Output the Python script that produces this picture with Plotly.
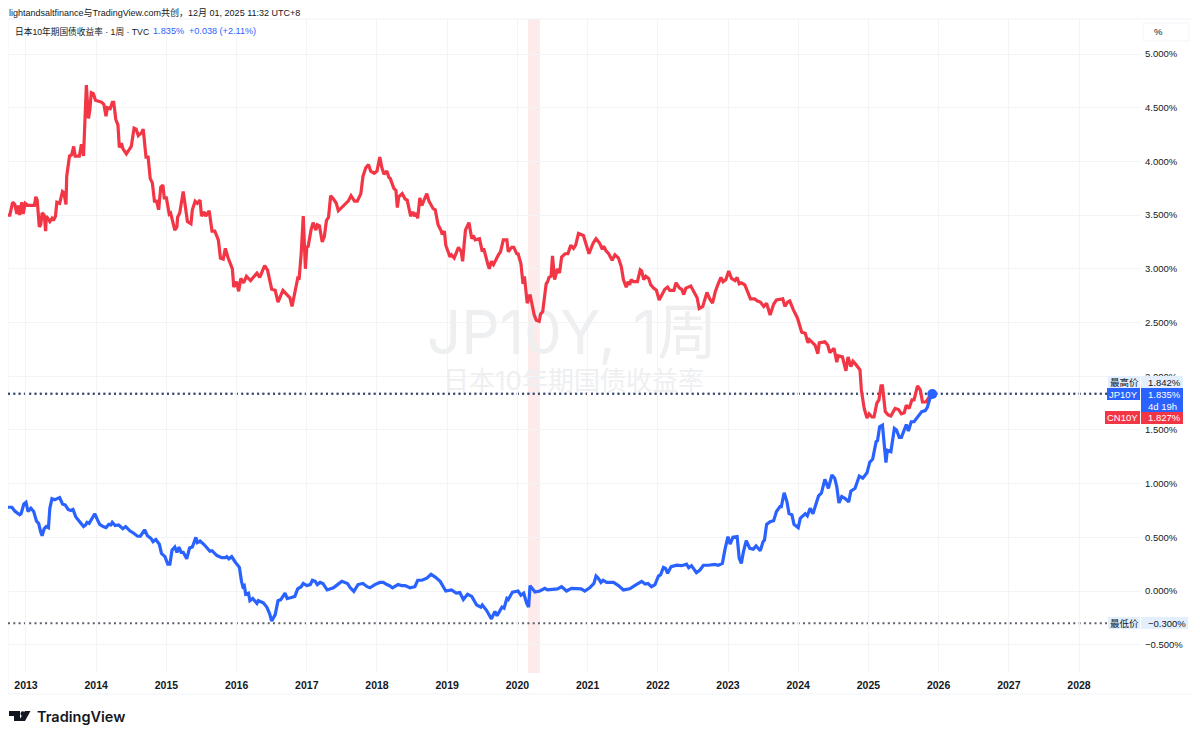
import plotly.graph_objects as go

# values, x is fractional calendar year
CN_YEARS = [
    2012.74, 2012.77, 2012.81, 2012.84, 2012.87, 2012.89, 2012.91, 2012.94, 2012.96, 2012.99, 2013.03, 2013.12,
    2013.14, 2013.16, 2013.19, 2013.21, 2013.23, 2013.26, 2013.28, 2013.29, 2013.34, 2013.37, 2013.39, 2013.42,
    2013.44, 2013.48, 2013.52, 2013.54, 2013.57, 2013.58, 2013.62, 2013.65, 2013.68, 2013.70, 2013.76, 2013.79,
    2013.82, 2013.84, 2013.86, 2013.89, 2013.91, 2013.93, 2013.96, 2013.99, 2014.03, 2014.08, 2014.11, 2014.14,
    2014.16, 2014.20, 2014.23, 2014.25, 2014.28, 2014.31, 2014.33, 2014.36, 2014.38, 2014.43, 2014.47, 2014.50,
    2014.54, 2014.57, 2014.60, 2014.65, 2014.67, 2014.71, 2014.74, 2014.77, 2014.80, 2014.83, 2014.86, 2014.89,
    2014.92, 2014.95, 2014.97, 2015.00, 2015.04, 2015.06, 2015.12, 2015.15, 2015.16, 2015.19, 2015.24, 2015.27,
    2015.30, 2015.35, 2015.37, 2015.41, 2015.44, 2015.48, 2015.50, 2015.54, 2015.56, 2015.61, 2015.65, 2015.69,
    2015.74, 2015.77, 2015.81, 2015.84, 2015.88, 2015.94, 2015.96, 2016.00, 2016.03, 2016.06, 2016.10, 2016.14,
    2016.20, 2016.25, 2016.29, 2016.33, 2016.40, 2016.44, 2016.48, 2016.50, 2016.55, 2016.59, 2016.66, 2016.70,
    2016.76, 2016.79, 2016.83, 2016.87, 2016.89,
    2016.92, 2016.95, 2016.98, 2017.00, 2017.02, 2017.06, 2017.09, 2017.13, 2017.15, 2017.18, 2017.22, 2017.25,
    2017.28, 2017.31, 2017.34, 2017.38, 2017.42, 2017.45, 2017.50, 2017.54, 2017.59, 2017.63, 2017.68, 2017.72,
    2017.77, 2017.80, 2017.84, 2017.88, 2017.91, 2017.96, 2018.00, 2018.04, 2018.07, 2018.10, 2018.14, 2018.17,
    2018.19, 2018.24, 2018.27, 2018.29, 2018.31, 2018.36, 2018.40, 2018.43, 2018.48, 2018.51, 2018.54, 2018.56,
    2018.58, 2018.61, 2018.64, 2018.67, 2018.71, 2018.74, 2018.80, 2018.83, 2018.87, 2018.91, 2018.93, 2018.96,
    2018.98, 2019.04, 2019.06, 2019.10, 2019.16, 2019.20, 2019.22, 2019.26, 2019.31, 2019.35, 2019.37, 2019.40,
    2019.46, 2019.50, 2019.52, 2019.58, 2019.60, 2019.63, 2019.66, 2019.73, 2019.76, 2019.80, 2019.85, 2019.87,
    2019.92, 2019.95, 2019.99, 2020.01, 2020.05, 2020.08, 2020.10, 2020.14, 2020.18, 2020.24, 2020.27, 2020.31,
    2020.33, 2020.36, 2020.41, 2020.43, 2020.45, 2020.48, 2020.50, 2020.53, 2020.57, 2020.60, 2020.63, 2020.68,
    2020.72, 2020.76, 2020.80, 2020.83, 2020.87, 2020.94, 2020.99, 2021.02,
    2021.08, 2021.12, 2021.17, 2021.21, 2021.23, 2021.26, 2021.30, 2021.35, 2021.39, 2021.44, 2021.48, 2021.51,
    2021.55, 2021.58, 2021.60, 2021.62, 2021.65, 2021.71, 2021.75, 2021.77, 2021.80, 2021.83, 2021.87, 2021.90,
    2021.94, 2021.98, 2022.02, 2022.06, 2022.10, 2022.14, 2022.17, 2022.23, 2022.26, 2022.31, 2022.34, 2022.37,
    2022.40, 2022.47, 2022.52, 2022.56, 2022.59, 2022.64, 2022.70, 2022.74, 2022.78, 2022.82, 2022.86, 2022.90,
    2022.93, 2022.97, 2023.01, 2023.05, 2023.10, 2023.13, 2023.16, 2023.19, 2023.24, 2023.29, 2023.32, 2023.38,
    2023.42, 2023.46, 2023.51, 2023.55, 2023.60, 2023.65, 2023.69, 2023.78, 2023.81, 2023.85, 2023.88, 2023.93,
    2023.99, 2024.05, 2024.10, 2024.14, 2024.16, 2024.24, 2024.28, 2024.30, 2024.38, 2024.42, 2024.45, 2024.51,
    2024.55, 2024.57, 2024.63, 2024.68, 2024.71, 2024.75, 2024.78, 2024.82, 2024.88, 2024.90, 2024.94, 2024.98,
    2025.01, 2025.05, 2025.08, 2025.12, 2025.15, 2025.18, 2025.20, 2025.24, 2025.28, 2025.32, 2025.38, 2025.43,
    2025.47, 2025.51, 2025.54, 2025.58, 2025.62, 2025.65, 2025.70, 2025.74, 2025.77, 2025.82, 2025.87, 2025.91,
]
CN_YIELD = [
    3.50, 3.50, 3.62, 3.60, 3.51, 3.59, 3.50, 3.62, 3.51, 3.61, 3.59, 3.59,
    3.67, 3.64, 3.39, 3.41, 3.52, 3.50, 3.35, 3.49, 3.44, 3.47, 3.45, 3.49,
    3.62, 3.61, 3.72, 3.71, 3.60, 3.86, 4.05, 4.06, 4.14, 4.05, 4.05, 4.16,
    4.05, 4.45, 4.71, 4.40, 4.48, 4.64, 4.63, 4.57, 4.56, 4.55, 4.53, 4.42,
    4.50, 4.49, 4.55, 4.55, 4.39, 4.34, 4.13, 4.17, 4.12, 4.07, 4.11, 4.14,
    4.31, 4.30, 4.24, 4.27, 4.30, 4.04, 4.04, 3.84, 3.80, 3.63, 3.63, 3.55,
    3.76, 3.78, 3.66, 3.66, 3.51, 3.52, 3.36, 3.39, 3.48, 3.52, 3.72, 3.55,
    3.44, 3.42, 3.55, 3.63, 3.61, 3.64, 3.49, 3.53, 3.49, 3.54, 3.35, 3.35,
    3.27, 3.10, 3.09, 3.19, 3.10, 3.00, 2.83, 2.88, 2.79, 2.91, 2.87, 2.93,
    2.89, 2.93, 2.96, 2.92, 3.03, 2.99, 2.85, 2.81, 2.80, 2.69, 2.80, 2.77,
    2.73, 2.65, 2.77, 2.91, 2.90,
    3.14, 3.49, 3.00, 3.20, 3.21, 3.36, 3.43, 3.36, 3.41, 3.40, 3.25, 3.30,
    3.45, 3.48, 3.68, 3.65, 3.61, 3.54, 3.57, 3.59, 3.63, 3.68, 3.63, 3.63,
    3.70, 3.86, 3.94, 3.97, 3.91, 3.89, 3.91, 4.04, 3.94, 3.88, 3.91, 3.85,
    3.84, 3.75, 3.73, 3.57, 3.67, 3.70, 3.65, 3.64, 3.49, 3.53, 3.49, 3.52,
    3.47, 3.66, 3.59, 3.64, 3.70, 3.63, 3.56, 3.55, 3.41, 3.36, 3.32, 3.35,
    3.22, 3.11, 3.13, 3.10, 3.20, 3.16, 3.07, 3.36, 3.43, 3.28, 3.31, 3.27,
    3.28, 3.16, 3.19, 3.04, 3.00, 3.07, 3.04, 3.13, 3.16, 3.27, 3.27, 3.16,
    3.20, 3.20, 3.14, 3.14, 3.05, 2.86, 2.93, 2.68, 2.76, 2.57, 2.52, 2.51,
    2.58, 2.60, 2.86, 2.88, 2.92, 2.93, 3.12, 2.90, 3.00, 2.96, 3.11, 3.14,
    3.14, 3.22, 3.19, 3.22, 3.33, 3.31, 3.19, 3.14,
    3.24, 3.28, 3.24, 3.18, 3.21, 3.17, 3.14, 3.08, 3.13, 3.10, 3.02, 2.90,
    2.83, 2.88, 2.85, 2.90, 2.88, 2.88, 2.99, 2.98, 2.90, 2.93, 2.91, 2.85,
    2.82, 2.80, 2.71, 2.76, 2.81, 2.83, 2.80, 2.80, 2.87, 2.82, 2.81, 2.76,
    2.82, 2.84, 2.78, 2.73, 2.63, 2.65, 2.78, 2.72, 2.68, 2.79, 2.86, 2.92,
    2.88, 2.90, 2.98, 2.91, 2.89, 2.92, 2.86, 2.87, 2.85, 2.76, 2.72, 2.72,
    2.70, 2.69, 2.65, 2.68, 2.57, 2.67, 2.71, 2.72, 2.65, 2.69, 2.70, 2.62,
    2.54, 2.41, 2.40, 2.31, 2.34, 2.29, 2.21, 2.31, 2.32, 2.29, 2.22, 2.26,
    2.13, 2.19, 2.18, 2.05, 2.18, 2.09, 2.14, 2.11, 2.06, 1.87, 1.70, 1.61,
    1.65, 1.62, 1.62, 1.75, 1.78, 1.91, 1.91, 1.67, 1.64, 1.63, 1.70, 1.69,
    1.65, 1.66, 1.73, 1.70, 1.78, 1.78, 1.91, 1.87, 1.76, 1.76, 1.81, 1.827,
]

JP_YEARS = [
    2012.74, 2012.80, 2012.84, 2012.91, 2012.93, 2012.97, 2013.00, 2013.03, 2013.07, 2013.11, 2013.15, 2013.18,
    2013.21, 2013.23, 2013.26, 2013.29, 2013.32, 2013.34, 2013.37, 2013.41, 2013.48, 2013.52, 2013.56, 2013.60,
    2013.64, 2013.67, 2013.71, 2013.76, 2013.82, 2013.85, 2013.87, 2013.90, 2013.94, 2013.98, 2014.02, 2014.05,
    2014.10, 2014.14, 2014.18, 2014.21, 2014.23, 2014.27, 2014.32, 2014.38, 2014.42, 2014.48, 2014.53, 2014.59,
    2014.63, 2014.69, 2014.73, 2014.78, 2014.81, 2014.85, 2014.90, 2014.93, 2014.98, 2015.02, 2015.05, 2015.08,
    2015.12, 2015.15, 2015.18, 2015.21, 2015.24, 2015.29, 2015.33, 2015.37, 2015.42, 2015.44, 2015.48, 2015.54,
    2015.62, 2015.65, 2015.72, 2015.79, 2015.84, 2015.86, 2015.89, 2015.93, 2015.98, 2016.04, 2016.07, 2016.09,
    2016.11, 2016.13, 2016.17, 2016.19, 2016.23, 2016.29, 2016.31, 2016.38, 2016.43, 2016.47, 2016.50, 2016.55,
    2016.59, 2016.63, 2016.69, 2016.72, 2016.78, 2016.83, 2016.87, 2016.92, 2016.95, 2017.00, 2017.05, 2017.08,
    2017.12, 2017.15, 2017.19,
    2017.23, 2017.29, 2017.33, 2017.38, 2017.42, 2017.50, 2017.58, 2017.62, 2017.67, 2017.73, 2017.80, 2017.86,
    2017.90, 2017.97, 2018.04, 2018.09, 2018.14, 2018.18, 2018.22, 2018.30, 2018.35, 2018.40, 2018.47, 2018.54,
    2018.58, 2018.64, 2018.71, 2018.77, 2018.83, 2018.90, 2018.98, 2019.06, 2019.13, 2019.18, 2019.23, 2019.29,
    2019.35, 2019.42, 2019.48, 2019.50, 2019.56, 2019.63, 2019.68, 2019.71, 2019.78, 2019.81, 2019.85, 2019.87,
    2019.93, 2020.01, 2020.05, 2020.09, 2020.13, 2020.16, 2020.18, 2020.21, 2020.25, 2020.32, 2020.39, 2020.43,
    2020.51, 2020.57, 2020.63, 2020.70, 2020.77, 2020.84, 2020.91, 2020.96, 2021.03, 2021.09, 2021.12, 2021.15,
    2021.19, 2021.22, 2021.27, 2021.37, 2021.44, 2021.51, 2021.60, 2021.67, 2021.77, 2021.82, 2021.86, 2021.91,
    2021.96, 2022.01, 2022.04, 2022.08, 2022.11, 2022.14, 2022.19, 2022.27, 2022.34, 2022.41, 2022.44,
    2022.48, 2022.55, 2022.60, 2022.65, 2022.72, 2022.77, 2022.81, 2022.86, 2022.92, 2022.96, 2023.00, 2023.03,
    2023.07, 2023.13, 2023.16, 2023.19, 2023.22, 2023.26, 2023.31, 2023.36, 2023.40, 2023.46, 2023.50, 2023.52,
    2023.55, 2023.60, 2023.65, 2023.69, 2023.74, 2023.76, 2023.80, 2023.84, 2023.87, 2023.91, 2023.94, 2024.00,
    2024.03, 2024.10, 2024.13, 2024.17, 2024.21, 2024.29, 2024.33, 2024.38, 2024.43, 2024.48, 2024.52, 2024.55,
    2024.58, 2024.62, 2024.67, 2024.72, 2024.75, 2024.81, 2024.87, 2024.92, 2024.98, 2025.02, 2025.06, 2025.11,
    2025.13, 2025.16, 2025.20, 2025.25, 2025.27, 2025.32, 2025.37, 2025.40, 2025.44, 2025.47, 2025.54, 2025.57,
    2025.61, 2025.65, 2025.71, 2025.76, 2025.81, 2025.84, 2025.87, 2025.91,
]
JP_YIELD = [
    0.78, 0.78, 0.745, 0.71, 0.72, 0.81, 0.825, 0.74, 0.77, 0.74, 0.65, 0.63,
    0.55, 0.515, 0.58, 0.60, 0.59, 0.77, 0.86, 0.85, 0.87, 0.81, 0.80, 0.76,
    0.75, 0.76, 0.69, 0.645, 0.60, 0.615, 0.64, 0.63, 0.68, 0.72, 0.66, 0.62,
    0.60, 0.59, 0.62, 0.615, 0.64, 0.61, 0.615, 0.58, 0.60, 0.56, 0.54, 0.51,
    0.51, 0.57, 0.515, 0.49, 0.46, 0.48, 0.435, 0.35, 0.32, 0.25, 0.25, 0.38,
    0.41, 0.36, 0.41, 0.36, 0.36, 0.30, 0.40, 0.41, 0.50, 0.45, 0.465, 0.43,
    0.37, 0.375, 0.33, 0.31, 0.31, 0.32, 0.30, 0.32, 0.27, 0.22, 0.09, 0.04,
    0.05, -0.03, -0.02, -0.09, -0.07, -0.115, -0.09, -0.11, -0.15, -0.21, -0.28, -0.22,
    -0.09, -0.08, -0.02, -0.07, -0.06, -0.05, 0.02, 0.04, 0.07, 0.05, 0.06, 0.10,
    0.09, 0.06, 0.08,
    0.07, 0.01, 0.02, 0.03, 0.05, 0.09, 0.07, 0.03, -0.003, 0.06, 0.07, 0.04,
    0.03, 0.06, 0.08, 0.08, 0.06, 0.05, 0.03, 0.06, 0.05, 0.05, 0.03, 0.04,
    0.10, 0.10, 0.12, 0.155, 0.13, 0.09, 0.0, 0.01, -0.02, -0.015, -0.08, -0.03,
    -0.05, -0.13, -0.15, -0.13, -0.18, -0.26, -0.19, -0.23, -0.15, -0.16, -0.07, -0.08,
    -0.01, 0.0, -0.04, -0.02, -0.11, -0.15, 0.05, 0.02, -0.01, 0.0, 0.025, 0.01,
    0.02, 0.02, 0.04, 0.0, 0.025, 0.025, 0.02, 0.0, 0.03, 0.07, 0.14, 0.12,
    0.08, 0.10, 0.08, 0.08, 0.05, 0.01, 0.02, 0.05, 0.09, 0.065, 0.07, 0.04,
    0.06, 0.14, 0.15, 0.22, 0.21, 0.165, 0.227, 0.24, 0.236, 0.25, 0.217,
    0.236, 0.17, 0.195, 0.24, 0.24, 0.248, 0.248, 0.24, 0.257, 0.397, 0.506, 0.437,
    0.50, 0.506, 0.304, 0.257, 0.366, 0.468, 0.397, 0.39, 0.42, 0.375, 0.46, 0.475,
    0.62, 0.645, 0.655, 0.74, 0.785, 0.785, 0.915, 0.83, 0.72, 0.71, 0.62, 0.59,
    0.676, 0.72, 0.70, 0.77, 0.72, 0.885, 0.91, 1.04, 0.956, 1.08, 1.05, 0.97,
    0.82, 0.88, 0.86, 0.83, 0.93, 0.956, 1.07, 1.05, 1.10, 1.20, 1.226, 1.39,
    1.40, 1.53, 1.545, 1.195, 1.31, 1.297, 1.514, 1.50, 1.43, 1.43, 1.55, 1.49,
    1.576, 1.576, 1.63, 1.67, 1.68, 1.71, 1.78, 1.835,
]

YEAR_TICKS = list(range(2013, 2029))
YIELD_TICKS = [-0.5, 0, 0.5, 1, 1.5, 2, 2.5, 3, 3.5, 4, 4.5, 5]
YIELD_LABELS = ["−0.500%", "0.000%", "0.500%", "1.000%", "1.500%", "2.000%",
                "2.500%", "3.000%", "3.500%", "4.000%", "4.500%", "5.000%"]
HIGH = 1.842
LOW = -0.300
LAST = 1.835
BAND = [2020.15, 2020.32]

FONT = "'Liberation Sans', 'Noto Sans CJK SC', sans-serif"
MARK_FONT = "Inter, 'Noto Sans CJK SC', sans-serif"
RED = "#f23645"
BLUE = "#2962ff"
FRAME = "#f1f3f8"

# the browser keeps 8px of body margin around the figure, so the figure is 8px
# smaller and L/R/T/B below are page pixels of the price pane
PAGE = 8
W, H = 1200 - PAGE, 738 - PAGE
L, R, T, B = 8, 1141, 19, 673


def px(x):
    return (x - L) / (R - L)


def py(y):
    return (B - y) / (B - T)


def box(x0, y0, x1, y1, color, line=None):
    return dict(type="rect", xref="paper", yref="paper", x0=px(x0), x1=px(x1), y0=py(y0), y1=py(y1),
                fillcolor=color, line=dict(color=line or color, width=1 if line else 0), layer="above")


def label(x, y, text, color="#131722", size=9.5, anchor="left", weight=None, family=FONT):
    font = dict(family=family, size=size, color=color)
    if weight:
        font["weight"] = weight
    return dict(xref="paper", yref="paper", x=px(x), y=py(y), text=text, showarrow=False,
                xanchor=anchor, yanchor="middle", font=font)


def poly(points, color="#131722"):
    d = "M" + " L".join(f"{px(a):.5f},{py(b):.5f}" for a, b in points) + " Z"
    return dict(type="path", xref="paper", yref="paper", path=d, fillcolor=color, line=dict(width=0), layer="above")


fig = go.Figure()

# watermark goes first so the lines sit on top of it
fig.add_trace(go.Scatter(x=[2020.78], y=[2.35], mode="text", text=["JP10Y, 1周"], hoverinfo="skip",
                         textfont=dict(family=MARK_FONT, size=60, color="#eeeff1"), showlegend=False))
fig.add_trace(go.Scatter(x=[2020.80], y=[1.93], mode="text", text=["日本10年期国债收益率"], hoverinfo="skip",
                         textfont=dict(family=MARK_FONT, size=26, color="#eeeff1"), showlegend=False))

fig.add_trace(go.Scatter(x=CN_YEARS, y=CN_YIELD, mode="lines", name="CN10Y",
                         line=dict(color=RED, width=3.2), showlegend=False))
fig.add_trace(go.Scatter(x=JP_YEARS, y=JP_YIELD, mode="lines", name="JP10Y",
                         line=dict(color=BLUE, width=3.2), showlegend=False))
fig.add_trace(go.Scatter(x=JP_YEARS[-1:], y=JP_YIELD[-1:], mode="markers", hoverinfo="skip",
                         marker=dict(color=BLUE, size=10), showlegend=False))

shapes = [
    dict(type="rect", xref="x", yref="paper", x0=BAND[0], x1=BAND[1], y0=0, y1=1,
         fillcolor="#fdeaea", line=dict(width=0), layer="below"),
    # outer frame of the widget
    dict(type="rect", xref="paper", yref="paper", x0=px(8), x1=px(1193), y0=py(694), y1=py(19),
         line=dict(color=FRAME, width=1), layer="below"),
    # dotted high / last / low lines
    dict(type="line", xref="paper", yref="y", x0=0, x1=px(1107), y0=HIGH, y1=HIGH,
         line=dict(color="#5a6b8c", width=1.5, dash="2px,3.3px"), layer="below"),
    dict(type="line", xref="paper", yref="y", x0=0, x1=px(1107), y0=LAST, y1=LAST,
         line=dict(color="#3d4f75", width=2, dash="2px,3.3px"), layer="below"),
    dict(type="line", xref="paper", yref="y", x0=0, x1=px(1107), y0=LOW, y1=LOW,
         line=dict(color="#5d606b", width=2, dash="2px,3.3px"), layer="below"),
    # price axis tags
    box(1108, 376, 1140, 388, "#e3effd"),
    box(1141, 376, 1183, 388, "#e3effd"),
    box(1107, 388, 1140, 400, BLUE),
    box(1141, 388, 1183, 412, BLUE),
    box(1105, 411, 1140, 424, RED),
    box(1141, 412, 1183, 424, RED),
    box(1108, 617, 1140, 629, "#e3effd"),
    box(1141, 617, 1188, 629, "#e3effd"),
    # unit button
    box(1143, 23, 1189, 41, "#ffffff", line="#f4f5f9"),
    # TradingView logo
    poly([(9, 711), (20, 711), (20, 721), (14, 721), (14, 716), (9, 716)]),
    poly([(25, 711), (30.5, 711), (25, 721), (18.5, 721)]),
    dict(type="circle", xref="paper", yref="paper", x0=px(20.5), x1=px(25), y0=py(716), y1=py(711.3),
         fillcolor="#131722", line=dict(width=0), layer="above"),
]

annotations = [
    label(7, 12.5, "lightandsaltfinance与TradingView.com共创，12月 01, 2025 11:32 UTC+8", size=9),
    label(13, 31, "日本10年期国债收益率 · 1周 · TVC", size=8.7),
    label(151, 31, "1.835%", color=BLUE, size=9.2),
    label(187, 31, "+0.038 (+2.11%)", color=BLUE, size=9.1),
    label(1152, 32, "%"),
    label(1124, 382, "最高价", anchor="center"),
    label(1146, 382, "1.842%"),
    label(1123.5, 394, "JP10Y", color="#ffffff", anchor="center"),
    label(1146, 394, "1.835%", color="#ffffff"),
    label(1146, 406, "4d 19h", color="#ffffff"),
    label(1122.5, 417.5, "CN10Y", color="#ffffff", anchor="center"),
    label(1146, 417.5, "1.827%", color="#ffffff"),
    label(1124, 623, "最低价", anchor="center"),
    label(1146, 623, "−0.300%"),
    label(35, 716, "TradingView", size=14.5, weight=600, family=MARK_FONT),
]

fig.update_layout(
    width=W,
    height=H,
    autosize=False,
    margin=dict(l=L - PAGE, r=W + PAGE - R, t=T - PAGE, b=H + PAGE - B),
    paper_bgcolor="white",
    plot_bgcolor="white",
    font=dict(family=FONT, size=10, color="#131722"),
    shapes=shapes,
    annotations=annotations,
    hovermode=False,
)
fig.update_xaxes(
    range=[2012.744, 2028.883],
    tickvals=YEAR_TICKS,
    ticktext=[str(y) for y in YEAR_TICKS],
    tickfont=dict(family=FONT, size=10.5, color="#131722", weight=700),
    ticklabelstandoff=4,
    showgrid=True,
    gridcolor="#f3f4f8",
    gridwidth=1,
    zeroline=False,
    showline=False,
    ticks="",
)
fig.update_yaxes(
    range=[-0.7635, 5.326],
    side="right",
    tickvals=YIELD_TICKS,
    ticktext=YIELD_LABELS,
    tickfont=dict(family=FONT, size=9.5, color="#131722"),
    ticklabelstandoff=3,
    showgrid=True,
    gridcolor="#f3f4f8",
    gridwidth=1,
    zeroline=False,
    showline=False,
    ticks="",
)

fig.write_html("out.html")
